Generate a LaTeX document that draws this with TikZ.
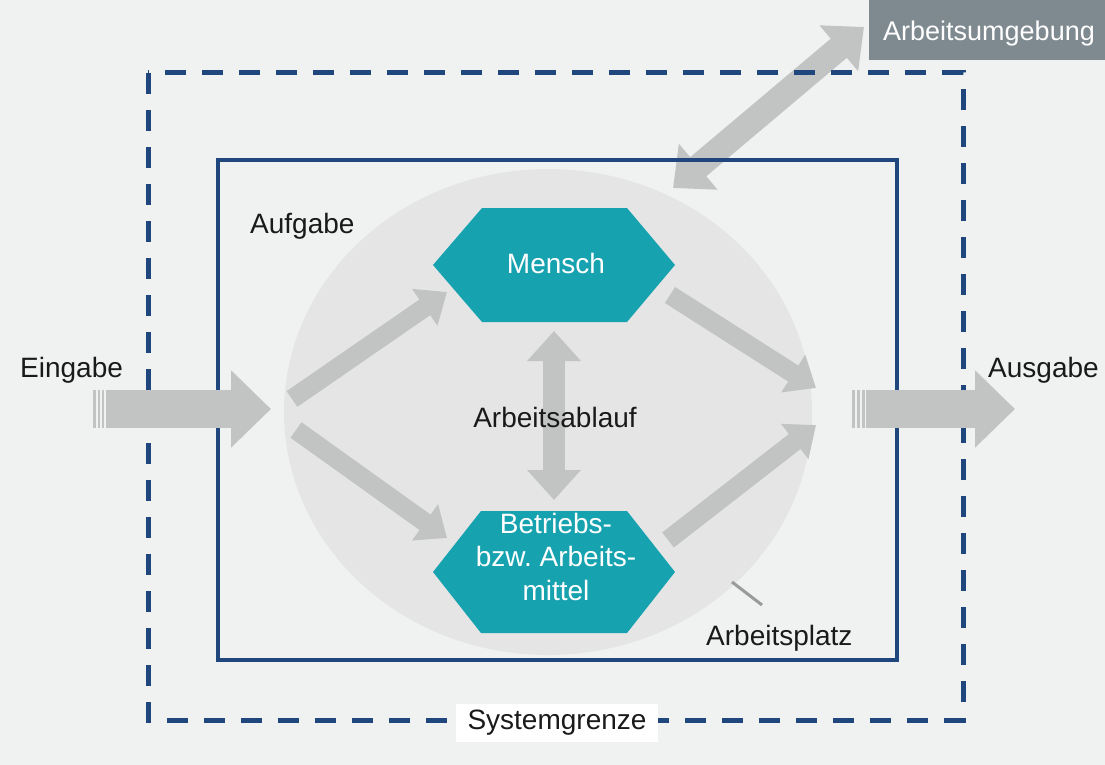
\documentclass[tikz,border=0pt]{standalone}
\usepackage{fontspec}
\setmainfont{Liberation Sans}
\frenchspacing
\usetikzlibrary{arrows.meta,calc}
\definecolor{bgc}{HTML}{F0F2F2}
\definecolor{circc}{HTML}{E5E5E5}
\definecolor{arrgray}{HTML}{C2C3C3}
\definecolor{tealc}{HTML}{17A2B0}
\definecolor{navy}{HTML}{1F477D}
\definecolor{envc}{HTML}{7F8A90}
\definecolor{ptrc}{HTML}{9A9A9A}
\definecolor{txtc}{HTML}{1A1A1A}
\begin{document}
\begin{tikzpicture}[x=1pt,y=-1pt,
  lbl/.style={font=\fontsize{28}{33.3}\selectfont, text=txtc, inner sep=0pt},
  hexlbl/.style={lbl, text=white, align=center},
  hexfill/.style={fill=tealc},
  bigarrow/.style={draw=arrgray, line width=38pt, -{Triangle[width=75pt,length=40pt]}},
  midarrow/.style={draw=arrgray, line width=19pt, -{Triangle[width=43pt,length=27pt]}},
  dblarrow/.style={draw=arrgray, line width=22pt, {Triangle[width=52pt,length=30pt]}-{Triangle[width=52pt,length=30pt]}},
  envarrow/.style={draw=arrgray, line width=25pt, {Triangle[width=58pt,length=33pt]}-{Triangle[width=58pt,length=33pt]}},
  stripe/.style={fill=arrgray},
  solidbox/.style={draw=navy, line width=4pt},
  dashbox/.style={draw=navy, line width=5pt, dash pattern=on 21pt off 16pt},
]
\useasboundingbox (0,0) rectangle (1105,765);
\fill[bgc] (0,0) rectangle (1105,765);

% work place circle
\fill[circc] (548,412) ellipse [x radius=264pt, y radius=243pt];

% environment arrow
\coordinate (envA) at (673,188);
\coordinate (envB) at (864,27);
\draw[envarrow] (envA) -- (envB);

% environment box
\fill[envc] (869,0) rectangle (1105,60);
\node (env) [lbl, font=\fontsize{27}{33}\selectfont, text=white, anchor=base] at (989,41) {Arbeitsumgebung};

% boundaries
\draw[dashbox] (148,73) rectangle (963,720);
\draw[solidbox] (218,160) rectangle (897,660);

% hexagons
\fill[hexfill] (433,265) -- (482,208) -- (627,208) -- (675,265) -- (627,322) -- (482,322) -- cycle;
\node (mensch) [hexlbl, anchor=base] at (556,273) {Mensch};
\fill[hexfill] (433,572) -- (481,511) -- (627,511) -- (675,572) -- (627,633) -- (481,633) -- cycle;
\node (mittel) [hexlbl, anchor=north] at (556,513) {Betriebs-\\bzw. Arbeits-\\mittel};

% inner arrows
\coordinate (d1a) at (292,399); \coordinate (d1b) at (447,292);
\coordinate (d2a) at (296,430); \coordinate (d2b) at (447,538);
\coordinate (d3a) at (670,295); \coordinate (d3b) at (816,388);
\coordinate (d4a) at (668,540); \coordinate (d4b) at (816,425);
\draw[midarrow] (d1a) -- (d1b);
\draw[midarrow] (d2a) -- (d2b);
\draw[midarrow] (d3a) -- (d3b);
\draw[midarrow] (d4a) -- (d4b);
\coordinate (vA) at (554,331);
\coordinate (vB) at (554,500);
\draw[dblarrow] (vA) -- (vB);

% input / output
\fill[stripe] (93,390) rectangle (96,428);
\fill[stripe] (97.5,390) rectangle (100,428);
\fill[stripe] (101.5,390) rectangle (104,428);
\coordinate (einA) at (106,409);
\coordinate (einB) at (271,409);
\draw[bigarrow] (einA) -- (einB);
\fill[stripe] (852,390) rectangle (855,428);
\fill[stripe] (857,390) rectangle (860,428);
\fill[stripe] (861.5,390) rectangle (864.5,428);
\coordinate (ausA) at (866,409);
\coordinate (ausB) at (1015,409);
\draw[bigarrow] (ausA) -- (ausB);

% labels
\node (ein) [lbl, anchor=base west] at (20,377) {Eingabe};
\node (aus) [lbl, anchor=base west] at (988,377) {Ausgabe};
\node (auf) [lbl, anchor=base west] at (250,233) {Aufgabe};
\node (ablauf) [lbl, anchor=base] at (555,427) {Arbeitsablauf};
\node (platz) [lbl, anchor=base west] at (706,645) {Arbeitsplatz};
\coordinate (ptrA) at (732,582);
\coordinate (ptrB) at (762,605);
\draw[ptrc, line width=3pt] (ptrA) -- (ptrB);
\node (sys) [lbl, fill=white, inner xsep=12pt, inner ysep=6pt] at (557,723) {Systemgrenze};
\end{tikzpicture}
\end{document}
